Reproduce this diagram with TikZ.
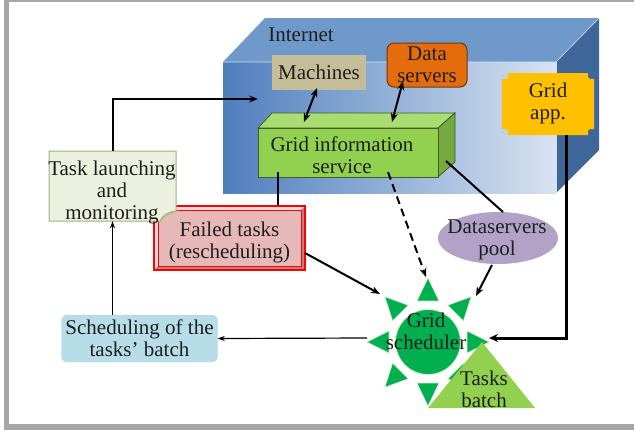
\documentclass[tikz,border=0pt]{standalone}
\usepackage{fontspec}
\setmainfont{Liberation Serif}
\usetikzlibrary{arrows.meta,shapes.geometric}
\definecolor{frameg}{HTML}{A6A6A6}
\definecolor{inettop}{HTML}{7099CB}
\definecolor{inetleft}{HTML}{4F7EBD}
\definecolor{inetright}{HTML}{D8E3F1}
\definecolor{inetside}{HTML}{3F6699}
\definecolor{machc}{HTML}{C4BD97}
\definecolor{dsc}{HTML}{E46C0A}
\definecolor{dsline}{HTML}{6B3A10}
\definecolor{appc}{HTML}{FFC000}
\definecolor{gisfront}{HTML}{92D050}
\definecolor{gistop}{HTML}{AADC72}
\definecolor{gisside}{HTML}{77AA3E}
\definecolor{gisline}{HTML}{3E5E22}
\definecolor{notec}{HTML}{EBF1DE}
\definecolor{noteline}{HTML}{9BB57A}
\definecolor{foldc}{HTML}{C3D69B}
\definecolor{failc}{HTML}{E6B9B8}
\definecolor{faillight}{HTML}{F2DCDB}
\definecolor{faildark}{HTML}{B08585}
\definecolor{poolc}{HTML}{B3A2C7}
\definecolor{schedc}{HTML}{B7DDE8}
\definecolor{sunc}{HTML}{00B050}
\definecolor{sunline}{HTML}{D8EBC8}
\definecolor{batchc}{HTML}{92D050}
\definecolor{txt}{HTML}{1E1E1E}
\begin{document}
\begin{tikzpicture}[x=1pt,y=-1pt,
  font=\fontsize{21}{22}\selectfont, text=txt,
  box/.style={inner sep=0pt, align=center},
  arr/.style={line width=2pt, -{Stealth[length=9pt,width=7pt]}},
  dblarr/.style={line width=2pt, {Stealth[length=9pt,width=7pt]}-{Stealth[length=9pt,width=7pt]}},
  thinarr/.style={line width=1.2pt, -{Stealth[length=7pt,width=5pt]}},
  plainline/.style={line width=2pt}]
\useasboundingbox (0,0) rectangle (634,432);
% frame
\fill[frameg] (4,0) rectangle (8.7,430);
\fill[frameg] (4,0) rectangle (634,2);
\fill[frameg] (4,424) rectangle (634,430);
% Internet box
\fill[inettop] (223,62) -- (265,18) -- (599,18) -- (556,62) -- cycle;
\fill[inetside] (556,62) -- (599,18) -- (599,150) -- (556,193) -- cycle;
\shade[left color=inetleft, right color=inetright] (223,62) rectangle (556,193);
\draw[white!70!inettop, line width=0.6pt] (223,62) -- (556,62) -- (599,18);
\draw[white!70!inettop, line width=0.6pt] (556,62) -- (556,193);
\node[box] (inet) at (301,35) {Internet};
% Machines
\node[box, fill=machc, minimum width=94pt, minimum height=35pt] (mach) at (319,72) {Machines};
% Data servers
\node[box, fill=dsc, draw=dsline, line width=1pt, rounded corners=7pt, minimum width=80pt, minimum height=44pt] (ds) at (427,65) {Data\\servers};
% Grid app.
\fill[appc] (508,73) -- (588,73) .. controls (588,79) .. (594,79) -- (594,129) .. controls (588,129) .. (588,135) -- (508,135) .. controls (508,129) .. (502,129) -- (502,79) .. controls (508,79) .. (508,73) -- cycle;
\node[box] (app) at (548,103) {Grid\\app.};
% Grid information service (3D box)
\fill[gistop, draw=gisline, line width=0.8pt] (258,128) -- (272,113) -- (455,113) -- (438,128) -- cycle;
\fill[gisside, draw=gisline, line width=0.8pt] (438,128) -- (455,113) -- (455,162) -- (438,177) -- cycle;
\node[fill=gisfront, draw=gisline, line width=0.8pt, minimum width=180pt, minimum height=49pt, inner sep=0pt] (gis) at (348,152.5) {};
\node[box] (gistext) at (342,155) {Grid information\\service};
% Failed tasks
\node[fill=failc, draw=red, line width=1.2pt, minimum width=151pt, minimum height=64pt, inner sep=0pt] (failed) at (229.5,238) {};
\fill[faillight] (155,207) -- (304,207) -- (301,210) -- (158,210) -- (158,266) -- (155,269) -- cycle;
\fill[faildark] (304,207) -- (304,269) -- (155,269) -- (158,266) -- (301,266) -- (301,210) -- cycle;
\draw[red, line width=0.8pt] (158,210) rectangle (301,266);
\draw[red, line width=1.2pt] (154,206) rectangle (305,270);
\node[box] (failedtext) at (229.5,242.5) {Failed tasks\\(rescheduling)};
% Task launching note
\fill[notec, draw=noteline, line width=1pt] (49,151) -- (176,151) -- (176,211) .. controls (168,213) and (162,216) .. (160,221) -- (49,221) -- cycle;
\fill[foldc, draw=noteline, line width=0.6pt] (160,221) .. controls (163,214) and (168,212) .. (176,211) .. controls (170,214) and (166,214) .. (160,221) -- cycle;
\node[minimum width=127pt, minimum height=70pt, inner sep=0pt] (task) at (112.5,186) {};
\node[box] (tasktext) at (112,192) {Task launching\\and\\monitoring};
% Dataservers pool
\node[ellipse, fill=poolc, minimum width=120pt, minimum height=52pt, inner sep=0pt] (pool) at (498,238) {};
\node[box] (pooltext) at (497,240) {Dataservers\\pool};
% Scheduling of the tasks' batch
\node[box, fill=schedc, draw=schedc!85!black!20!schedc, rounded corners=6pt, minimum width=156pt, minimum height=47pt] (sched) at (139.5,338.5) {Scheduling of the\\tasks’ batch};
% Grid scheduler sun
\foreach \a in {0,45,...,315} {
  \fill[sunc, draw=sunline, line width=0.6pt] ({428+61*cos(\a)},{342+64*sin(\a)}) -- ({428+39*cos(\a)-11*sin(\a)},{342+41*sin(\a)+11*cos(\a)}) -- ({428+39*cos(\a)+11*sin(\a)},{342+41*sin(\a)-11*cos(\a)}) -- cycle;
}
\node[circle, fill=sunc, draw=sunline, line width=0.8pt, minimum size=65pt, inner sep=0pt] (sun) at (428,342) {};
\coordinate (suntop) at (426,277);
\coordinate (sunnw) at (380,294);
\coordinate (sunne) at (476,296);
\coordinate (suneast) at (489,338);
\coordinate (sunwest) at (367,338);
% Tasks batch
\fill[batchc] (482,342) -- (535,408) -- (428,408) -- cycle;
\node[box] (batch) at (484,389) {Tasks\\batch};
\node[box] (suntext) at (426,331) {Grid\\scheduler};
% connector end points
\coordinate (inetin) at (258,99);
\coordinate (machend) at (317,88);
\coordinate (gism) at (304,122);
\coordinate (dsend) at (403,81);
\coordinate (gisd) at (392,122);
\coordinate (gisfail) at (278,172);
\coordinate (gisdash) at (388,172);
\coordinate (gisside) at (446,161);
\coordinate (pooltop) at (503,212);
\coordinate (poolbot) at (492,265);
\coordinate (failout) at (305,253);
\coordinate (appbot) at (566,135);
% connectors
\draw[arr] (task.north) |- (inetin);
\draw[dblarr] (machend) -- (gism);
\draw[dblarr] (dsend) -- (gisd);
\draw[plainline] (gisfail) -- (gisfail |- failed.north);
\draw[arr, dash pattern=on 8pt off 5pt] (gisdash) -- (suntop);
\draw[plainline] (gisside) -- (pooltop);
\draw[arr] (poolbot) -- (sunne);
\draw[arr] (failout) -- (sunnw);
\draw[line width=3pt, -{Stealth[length=9pt,width=8pt]}] (appbot) |- (suneast);
\draw[thinarr] (sunwest) -- (sched.east);
\draw[thinarr] (sched.north -| task.north) -- (task.south);
\end{tikzpicture}
\end{document}
